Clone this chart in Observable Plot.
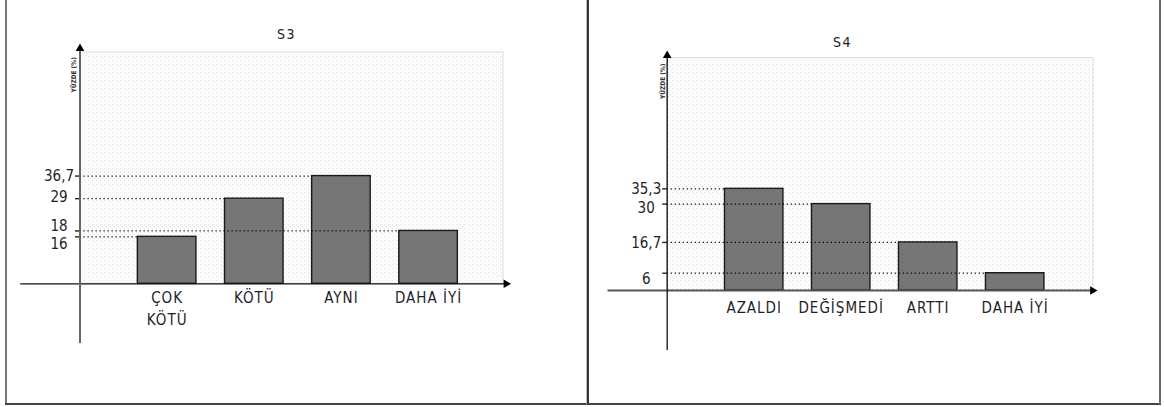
<!DOCTYPE html>
<html>
<head>
<meta charset="utf-8">
<script src="https://cdn.jsdelivr.net/npm/d3@7"></script>
<script src="https://cdn.jsdelivr.net/npm/@observablehq/plot@0.6"></script>
<style>
  html, body { margin: 0; padding: 0; background: #fff; }
  #page { position: relative; width: 1164px; height: 407px; overflow: hidden; }
  .panel { position: absolute; top: 0; }
  .frame { position: absolute; pointer-events: none; }
  g[aria-description="cats"] text { letter-spacing: 1px; }
  g[aria-description="title"] text { letter-spacing: 1.5px; }
</style>
</head>
<body>
<div id="page">
  <div class="panel" id="left" style="left:0px"></div>
  <div class="panel" id="right" style="left:588px"></div>
  <div class="frame" style="left:5px;top:0;width:2px;height:404px;background:#777"></div>
  <div class="frame" style="left:5px;top:402.5px;width:1156px;height:2px;background:#444"></div>
  <div class="frame" style="left:586px;top:0;width:1px;height:404px;background:#bbb"></div>
  <div class="frame" style="left:587px;top:0;width:2px;height:404px;background:#333"></div>
  <div class="frame" style="left:1158.5px;top:0;width:2px;height:404px;background:#6a6a6a"></div>
</div>
<script>
// ---- Data: S3 ----
const s3Title = "S3";
const s3Categories = ["ÇOK\nKÖTÜ", "KÖTÜ", "AYNI", "DAHA İYİ"];
const s3Values = [16, 29, 36.7, 18];
const s3TickValues = [36.7, 29, 18, 16];
const s3TickLabels = ["36,7", "29", "18", "16"];

// ---- Data: S4 ----
const s4Title = "S4";
const s4Categories = ["AZALDI", "DEĞİŞMEDİ", "ARTTI", "DAHA İYİ"];
const s4Values = [35.3, 30, 16.7, 6];
const s4TickValues = [35.3, 30, 16.7, 6];
const s4TickLabels = ["35,3", "30", "16,7", "6"];

const yAxisLabel = "YÜZDE (%)";

function panel(cfg) {
  const hw = 0.336; // half bar width in category steps
  const data = cfg.cats.map((c, i) => ({c, v: cfg.vals[i], i}));
  const tickData = cfg.ticks.map((t, k) => ({t, label: cfg.tickLabels[k], bar: cfg.vals.indexOf(t)}));
  const [xMin, xMax] = cfg.xDomain;
  const yMax = cfg.yDomain[1];
  const font = "'Liberation Sans Narrow', 'DejaVu Sans Condensed', sans-serif";
  const tickLabelMarks = tickData.map(d =>
    Plot.text([d], {x: xMin, y: "t", text: "label", dx: -21, dy: cfg.nudge[d.label] || 0,
      textAnchor: "middle", fontSize: 15, fontFamily: font, fill: "#1e1e28"}));

  const svg = Plot.plot({
    width: cfg.width, height: 402, margin: 0,
    style: {background: "transparent", overflow: "visible", maxWidth: "none"},
    x: {type: "linear", domain: cfg.xDomain, range: cfg.xRange, axis: null},
    y: {type: "linear", domain: cfg.yDomain, range: cfg.yRange, axis: null},
    marks: [
      Plot.rect([0], {x1: xMin, x2: xMax, y1: 0, y2: yMax, fill: `url(#${cfg.id}-dots)`, stroke: "#dedede", strokeWidth: 1}),
      Plot.rectY(data, {x1: d => d.i - hw, x2: d => d.i + hw, y1: 0, y2: "v", fill: "#767676", stroke: "#1a1a1a", strokeWidth: 1.4}),
      Plot.ruleY(tickData, {y: "t", x1: xMin, x2: d => d.bar - hw, stroke: "#000", strokeWidth: 1.2, strokeDasharray: "1.2,2.8"}),
      Plot.ruleY(tickData, {y: "t", x1: xMin - 4.5 / 87, x2: xMin, stroke: "#222", strokeWidth: 1.4}),
      Plot.ruleY([0], {x1: -1.68, x2: 3.9, stroke: cfg.xAxisColor, strokeWidth: cfg.xAxisWidth}),
      Plot.ruleX([xMin], {y1: cfg.yBottom, y2: yMax + cfg.yTopExtra, stroke: cfg.yAxisColor, strokeWidth: cfg.yAxisWidth}),
      Plot.dot([0], {x: xMin, y: yMax, dy: cfg.arrowDy, symbol: "triangle", r: 3.2, fill: "#000", stroke: "none"}),
      Plot.dot([0], {x: 3.89, y: 0, symbol: "triangle", rotate: 90, r: 3.2, fill: "#000", stroke: "none"}),
      ...tickLabelMarks,
      Plot.text(data, {x: "i", y: 0, text: "c", lineAnchor: "top", dy: cfg.catDy, lineHeight: 1.42,
        fontSize: 15, fontFamily: font, fill: "#1e1e28", ariaDescription: "cats"}),
      Plot.text([yAxisLabel], {x: cfg.yLabelX, y: cfg.yLabelY, rotate: -90, textAnchor: "end",
        fontSize: 6.5, fontWeight: "bold", fontFamily: font, fill: "#333"}),
      Plot.text([cfg.title], {frameAnchor: "top", dx: cfg.titleDx, dy: cfg.titleDy, fontSize: 14,
        fontFamily: "'DejaVu Sans Condensed', 'DejaVu Sans', sans-serif", fill: "#222", ariaDescription: "title"})
    ]
  });
  svg.insertAdjacentHTML("afterbegin",
    `<defs><pattern id="${cfg.id}-dots" width="4" height="4" patternUnits="userSpaceOnUse">` +
    `<rect width="4" height="4" fill="#fdfdfd"/><rect x="0" y="0" width="1" height="1" fill="#e0e0e0"/>` +
    `<rect x="2" y="2" width="1" height="1" fill="#e6e6e6"/></pattern></defs>`);
  return svg;
}

document.getElementById("left").append(panel({
  id: "s3", title: s3Title, cats: s3Categories, vals: s3Values, ticks: s3TickValues, tickLabels: s3TickLabels,
  width: 588, xDomain: [-1, 3.86], xRange: [79.5, 503], yDomain: [0, 78.8], yRange: [283.3, 52],
  yBottom: -20.3, yTopExtra: 1.5, arrowDy: -4,
  xAxisColor: "#111", xAxisWidth: 1.3, yAxisColor: "#666", yAxisWidth: 2,
  nudge: {"36,7": 0, "29": -1, "18": -4.5, "16": 7.5},
  catDy: 4.5, yLabelX: -1.069, yLabelY: 77.2, titleDx: -8, titleDy: 29
}));

document.getElementById("right").append(panel({
  id: "s4", title: s4Title, cats: s4Categories, vals: s4Values, ticks: s4TickValues, tickLabels: s4TickLabels,
  width: 576, xDomain: [-1, 3.9], xRange: [78.7, 505], yDomain: [0, 80.7], yRange: [290, 57.6],
  yBottom: -20.8, yTopExtra: 1, arrowDy: -2.6,
  xAxisColor: "#555", xAxisWidth: 2, yAxisColor: "#111", yAxisWidth: 1.3,
  nudge: {"35,3": 0.5, "30": 4.5, "16,7": 0.6, "6": 6.3},
  catDy: 7.5, yLabelX: -1.048, yLabelY: 78.8, titleDx: -34, titleDy: 37
}));
</script>
</body>
</html>
